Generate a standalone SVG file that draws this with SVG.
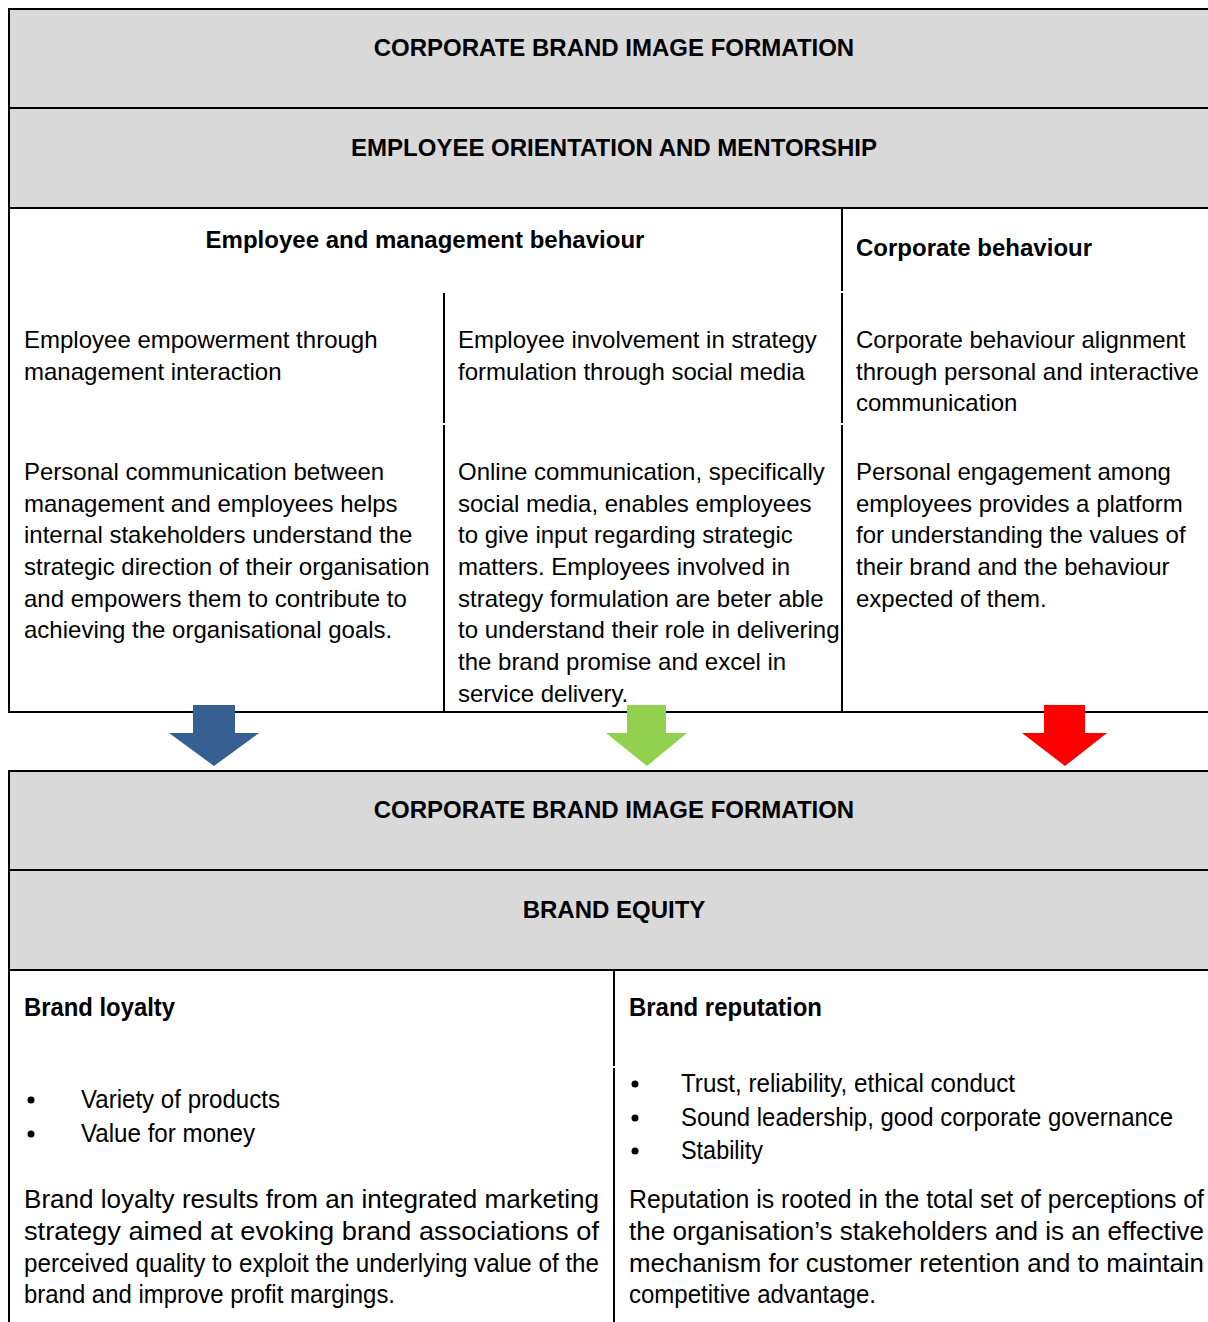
<svg xmlns="http://www.w3.org/2000/svg" width="1208" height="1322" viewBox="0 0 1208 1322">
<style>
.band{fill:#d9d9d9}
.ln{stroke:#000;stroke-width:2;fill:none}
.t{font-family:"Liberation Sans",Arial,sans-serif;font-size:24px;fill:#000}
.b{font-weight:bold}
.h{font-family:"Liberation Sans",Arial,sans-serif;font-size:24px;font-weight:bold;fill:#000;text-anchor:middle}
.n{font-family:"Liberation Sans",Arial,sans-serif;font-size:26px;fill:#000}
</style>
<rect width="1208" height="1322" fill="#fff"/>
<g id="top-table">
  <rect class="band" x="9" y="9" width="1199" height="199"/>
  <g id="header1"><text class="h" x="614" y="56">CORPORATE BRAND IMAGE FORMATION</text></g>
  <g id="header2"><text class="h" x="614" y="156">EMPLOYEE ORIENTATION AND MENTORSHIP</text></g>
  <path class="ln" d="M8 9H1208M9 8V712M9 108H1208M9 208H1208M8 712H1208"/>
  <path class="ln" d="M842 208V291M842 293V423M842 425V712M444 293V423M444 425V712"/>
  <g id="emp-behaviour">
    <text class="t b" x="425" y="248" text-anchor="middle">Employee and management behaviour</text>
  </g>
  <g id="corp-behaviour">
    <text class="t b" x="856" y="256">Corporate behaviour</text>
  </g>
  <g id="col1">
    <text class="t" x="24" y="348">Employee empowerment through</text>
    <text class="t" x="24" y="380">management interaction</text>
    <text class="t" x="24" y="480">Personal communication between</text>
    <text class="t" x="24" y="512">management and employees helps</text>
    <text class="t" x="24" y="543">internal stakeholders understand the</text>
    <text class="t" x="24" y="575">strategic direction of their organisation</text>
    <text class="t" x="24" y="607">and empowers them to contribute to</text>
    <text class="t" x="24" y="638">achieving the organisational goals.</text>
  </g>
  <g id="col2">
    <text class="t" x="458" y="348">Employee involvement in strategy</text>
    <text class="t" x="458" y="380">formulation through social media</text>
    <text class="t" x="458" y="480">Online communication, specifically</text>
    <text class="t" x="458" y="512">social media, enables employees</text>
    <text class="t" x="458" y="543">to give input regarding strategic</text>
    <text class="t" x="458" y="575">matters. Employees involved in</text>
    <text class="t" x="458" y="607">strategy formulation are beter able</text>
    <text class="t" x="458" y="638">to understand their role in delivering</text>
    <text class="t" x="458" y="670">the brand promise and excel in</text>
    <text class="t" x="458" y="702">service delivery.</text>
  </g>
  <g id="col3">
    <text class="t" x="856" y="348">Corporate behaviour alignment</text>
    <text class="t" x="856" y="380">through personal and interactive</text>
    <text class="t" x="856" y="411">communication</text>
    <text class="t" x="856" y="480">Personal engagement among</text>
    <text class="t" x="856" y="512">employees provides a platform</text>
    <text class="t" x="856" y="543">for understanding the values of</text>
    <text class="t" x="856" y="575">their brand and the behaviour</text>
    <text class="t" x="856" y="607">expected of them.</text>
  </g>
</g>
<g id="connectors">
  <polygon fill="#376092" points="193,705 235,705 235,733 259,733 214,766 169,733 193,733"/>
  <polygon fill="#92d050" points="627,705 666,705 666,733 687,733 647,766 606,733 627,733"/>
  <polygon fill="#ff0000" points="1044,705 1085,705 1085,733 1107,733 1065,766 1022,733 1044,733"/>
</g>
<g id="bottom-table">
  <rect class="band" x="9" y="771" width="1199" height="199"/>
  <g id="header3"><text class="h" x="614" y="818">CORPORATE BRAND IMAGE FORMATION</text></g>
  <g id="header4"><text class="h" x="614" y="918">BRAND EQUITY</text></g>
  <path class="ln" d="M8 771H1208M9 770V1322M9 870H1208M9 970H1208M614 970V1066M614 1068V1322"/>
  <g id="brand-loyalty">
    <text class="n b" x="24" y="1016" textLength="151" lengthAdjust="spacingAndGlyphs">Brand loyalty</text>
    <circle cx="31" cy="1100" r="3.5"/>
    <text class="n" x="81" y="1108" textLength="199" lengthAdjust="spacingAndGlyphs">Variety of products</text>
    <circle cx="31" cy="1134" r="3.5"/>
    <text class="n" x="81" y="1142" textLength="174" lengthAdjust="spacingAndGlyphs">Value for money</text>
    <text class="n" x="24" y="1208" textLength="575" lengthAdjust="spacingAndGlyphs">Brand loyalty results from an integrated marketing</text>
    <text class="n" x="24" y="1240" textLength="575" lengthAdjust="spacingAndGlyphs">strategy aimed at evoking brand associations of</text>
    <text class="n" x="24" y="1272" textLength="575" lengthAdjust="spacingAndGlyphs">perceived quality to exploit the underlying value of the</text>
    <text class="n" x="24" y="1303" textLength="371" lengthAdjust="spacingAndGlyphs">brand and improve profit margings.</text>
  </g>
  <g id="brand-reputation">
    <text class="n b" x="629" y="1016" textLength="193" lengthAdjust="spacingAndGlyphs">Brand reputation</text>
    <circle cx="635" cy="1084" r="3.5"/>
    <text class="n" x="681" y="1092" textLength="334" lengthAdjust="spacingAndGlyphs">Trust, reliability, ethical conduct</text>
    <circle cx="635" cy="1118" r="3.5"/>
    <text class="n" x="681" y="1126" textLength="492" lengthAdjust="spacingAndGlyphs">Sound leadership, good corporate governance</text>
    <circle cx="635" cy="1151" r="3.5"/>
    <text class="n" x="681" y="1159" textLength="82" lengthAdjust="spacingAndGlyphs">Stability</text>
    <text class="n" x="629" y="1208" textLength="575" lengthAdjust="spacingAndGlyphs">Reputation is rooted in the total set of perceptions of</text>
    <text class="n" x="629" y="1240" textLength="575" lengthAdjust="spacingAndGlyphs">the organisation’s stakeholders and is an effective</text>
    <text class="n" x="629" y="1272" textLength="575" lengthAdjust="spacingAndGlyphs">mechanism for customer retention and to maintain</text>
    <text class="n" x="629" y="1303" textLength="247" lengthAdjust="spacingAndGlyphs">competitive advantage.</text>
  </g>
</g>
</svg>
